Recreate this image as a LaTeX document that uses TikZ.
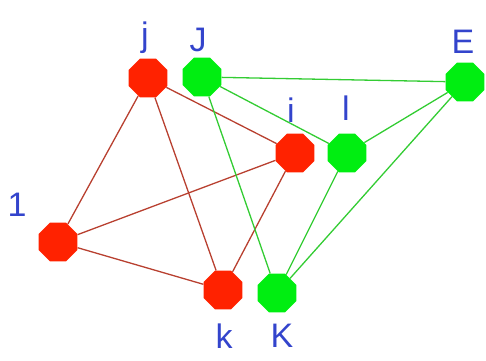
\documentclass[tikz,border=0pt]{standalone}
\usepackage{fontspec}
\setmainfont{Liberation Sans}
\usetikzlibrary{shapes.geometric}
\pgfdeclarelayer{background}
\pgfsetlayers{background,main}
\definecolor{nodered}{HTML}{FF2200}
\definecolor{nodegreen}{HTML}{00EE11}
\definecolor{edgered}{HTML}{B84030}
\definecolor{edgegreen}{HTML}{33CC33}
\definecolor{labelblue}{HTML}{3344CC}

\begin{document}
\begin{tikzpicture}[
    x=1pt, y=-1pt,
    vertex/.style={
        regular polygon,
        regular polygon sides=8,
        minimum size=42pt,
        inner sep=0pt
    },
    redv/.style={vertex, fill=nodered},
    greenv/.style={vertex, fill=nodegreen},
    tag/.style={text=labelblue, font=\fontsize{34}{34}\selectfont, inner sep=0pt},
    rededge/.style={draw=edgered, line width=1.3pt},
    greenedge/.style={draw=edgegreen, line width=1.3pt}
]
\useasboundingbox (0,0) rectangle (486,360);

% red vertices
\node[redv] (j) at (148,78) {};
\node[redv] (i) at (295,153) {};
\node[redv] (one) at (58,242) {};
\node[redv] (k) at (223,290) {};

% green vertices
\node[greenv] (J) at (202,77) {};
\node[greenv] (l) at (347,153) {};
\node[greenv] (E) at (465,82) {};
\node[greenv] (K) at (277,293) {};

% labels
\node[tag] (tj) at (145,38) {j};
\node[tag] (tJ) at (198,40) {J};
\node[tag] (tE) at (463,42) {E};
\node[tag] (ti) at (291,110) {i};
\node[tag] (tl) at (346,108) {l};
\node[tag] (tone) at (17,205) {1};
\node[tag] (tk) at (224,336) {k};
\node[tag] (tK) at (282,336) {K};

\begin{pgfonlayer}{background}
\draw[rededge] (j) -- (i);
\draw[rededge] (j) -- (one);
\draw[rededge] (j) -- (k);
\draw[rededge] (i) -- (one);
\draw[rededge] (i) -- (k);
\draw[rededge] (one) -- (k);

\draw[greenedge] (J) -- (E);
\draw[greenedge] (J) -- (l);
\draw[greenedge] (J) -- (K);
\draw[greenedge] (E) -- (l);
\draw[greenedge] (E) -- (K);
\draw[greenedge] (l) -- (K);
\end{pgfonlayer}

\end{tikzpicture}
\end{document}
